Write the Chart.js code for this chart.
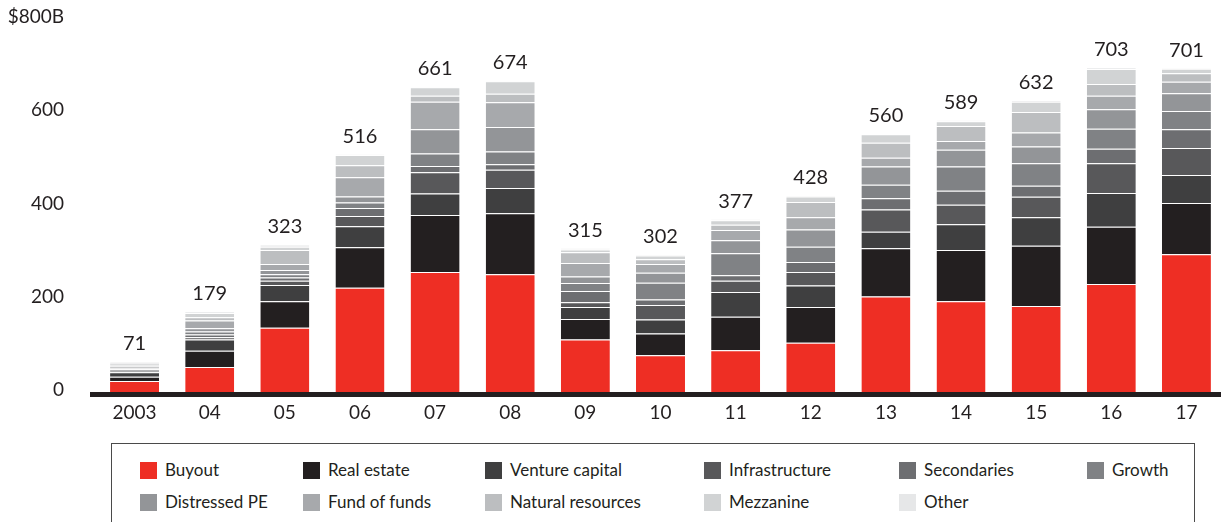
<!DOCTYPE html>
<html lang="en">
<head>
  <meta charset="UTF-8" />
  <title>Private capital raised by type</title>
  <script src="https://cdn.jsdelivr.net/npm/chart.js@4"></script>
  <style>
    html, body {
      margin: 0;
      padding: 0;
      background: #fff;
      overflow: hidden;
      font-family: Lato, sans-serif;
      color: #231f20;
    }
    #chartBox {
      position: absolute;
      left: 0;
      top: 0;
      width: 1226px;
      height: 440px;
    }
    #legend {
      position: absolute;
      left: 111px;
      top: 443px;
      width: 1082px;
      height: 120px;
      border: 1px solid #4a4a4a;
    }
    .item {
      position: absolute;
      font-size: 17px;
      line-height: 18px;
      white-space: nowrap;
    }
    .item span {
      position: absolute;
      left: 0;
      top: 0;
      width: 17px;
      height: 17px;
    }
    .item b {
      font-weight: normal;
      position: absolute;
      left: 25px;
      top: -1px;
    }
  </style>
</head>
<body>
  <div id="chartBox"><canvas id="capitalChart"></canvas></div>
  <div id="legend"></div>

  <script>
    // Jahre / Kategorien
    const years = ['2003', '04', '05', '06', '07', '08', '09', '10', '11', '12', '13', '14', '15', '16', '17'];
    const totals = [71, 179, 323, 516, 661, 674, 315, 302, 377, 428, 560, 589, 632, 703, 701];

    // Werte in $B, von unten nach oben gestapelt
    const buyout       = [30,  60, 144, 230, 264, 259, 119,  85,  96, 112, 211, 201, 191, 238, 302];
    const realEstate   = [ 9,  35,  57,  87, 122, 131,  44,  47,  72,  77, 104, 110, 129, 123, 110];
    const venture      = [10,  24,  35,  45,  46,  54,  26,  30,  53,  46,  35,  55,  61,  72,  60];
    const infra        = [ 3,   5,   9,  22,  46,  39,  10,  31,  24,  29,  48,  42,  44,  64,  58];
    const secondaries  = [ 3,   6,   7,  17,  13,  12,  24,  12,  12,  21,  24,  30,  24,  31,  40];
    const growth       = [ 2,   6,   7,  12,  27,  27,  17,  36,  47,  33,  29,  52,  48,  43,  39];
    const distressed   = [ 4,   7,   9,  13,  52,  53,  14,  21,  28,  37,  39,  36,  36,  42,  38];
    const fundOfFunds  = [ 3,  17,  13,  41,  59,  53,  29,  19,  22,  26,  19,  19,  30,  29,  25];
    const natResources = [ 3,   7,  30,  26,  13,  18,  23,  10,  11,  33,  32,  32,  44,  25,  18];
    const mezzanine    = [ 2,   9,   7,  22,  18,  27,   6,   8,  10,  12,  18,  10,  22,  32,  10];
    const other        = [ 2,   3,   5,   1,   1,   1,   3,   3,   2,   2,   1,   2,   3,   4,   1];

    const seriesNames = ['Buyout', 'Real estate', 'Venture capital', 'Infrastructure', 'Secondaries', 'Growth',
                         'Distressed PE', 'Fund of funds', 'Natural resources', 'Mezzanine', 'Other'];
    const seriesData = [buyout, realEstate, venture, infra, secondaries, growth,
                        distressed, fundOfFunds, natResources, mezzanine, other];
    const seriesColors = ['#ee2e24', '#231f20', '#3f3f40', '#58585a', '#6d6e71', '#808285',
                          '#939598', '#a7a9ac', '#bcbec0', '#d1d3d4', '#e6e7e8'];

    const yTicks = [0, 200, 400, 600, 800];

    Chart.defaults.font.family = 'Lato, sans-serif';
    Chart.defaults.color = '#231f20';

    // Summe über dem Balken + dicke Grundlinie
    const extras = {
      id: 'extras',
      afterDatasetsDraw(chart) {
        const ctx = chart.ctx;
        const xs = chart.scales.x;
        const ys = chart.scales.y;
        ctx.save();
        ctx.fillStyle = '#231f20';
        ctx.fillRect(90, 392, chart.width - 90, 5);
        ctx.font = '20px Lato, sans-serif';
        ctx.textAlign = 'center';
        ctx.textBaseline = 'middle';
        totals.forEach((t, i) => {
          ctx.fillText(String(t), xs.getPixelForValue(i), ys.getPixelForValue(t) - 18);
        });
        ctx.restore();
      }
    };

    new Chart(document.getElementById('capitalChart'), {
      type: 'bar',
      data: {
        labels: years,
        datasets: seriesNames.map((name, i) => ({
          label: name,
          data: seriesData[i],
          backgroundColor: seriesColors[i],
          borderColor: '#ffffff',
          borderWidth: { top: 1, bottom: 0, left: 0, right: 0 },
          borderSkipped: false,
          barPercentage: 0.652,
          categoryPercentage: 1
        }))
      },
      options: {
        responsive: true,
        maintainAspectRatio: false,
        animation: false,
        layout: { padding: { top: 22, right: 2, bottom: 0, left: 0 } },
        plugins: {
          legend: { display: false },
          tooltip: { enabled: false }
        },
        scales: {
          x: {
            stacked: true,
            grid: { display: false, drawTicks: false },
            border: { display: false },
            ticks: { font: { size: 19 }, padding: 6, color: '#231f20' },
            afterFit(scale) { scale.height = 45; }
          },
          y: {
            stacked: true,
            min: 0,
            max: 800,
            grid: { display: false, drawTicks: false },
            border: { display: false },
            afterBuildTicks(scale) { scale.ticks = yTicks.map(v => ({ value: v })); },
            ticks: {
              font: { size: 19 },
              padding: 33,
              labelOffset: -5,
              color: '#231f20',
              callback: v => v === 800 ? '$800B' : v
            },
            // feste Breite, kein Extra-Abstand oben/unten
            afterFit(scale) {
              scale.width = 97;
              scale.paddingTop = 0;
              scale.paddingBottom = 0;
            }
          }
        }
      },
      plugins: [extras]
    });

    // Legende im Kasten unten
    const legendCols = [28, 191, 373, 592, 787, 975];
    const legendRows = [18, 50];
    const legendEl = document.getElementById('legend');
    seriesNames.forEach((name, i) => {
      const row = i < 6 ? 0 : 1;
      const col = i < 6 ? i : i - 6;
      const el = document.createElement('div');
      el.className = 'item';
      el.style.left = legendCols[col] + 'px';
      el.style.top = legendRows[row] + 'px';
      el.innerHTML = '<span style="background:' + seriesColors[i] + '"></span><b>' + name + '</b>';
      legendEl.appendChild(el);
    });
  </script>
</body>
</html>
